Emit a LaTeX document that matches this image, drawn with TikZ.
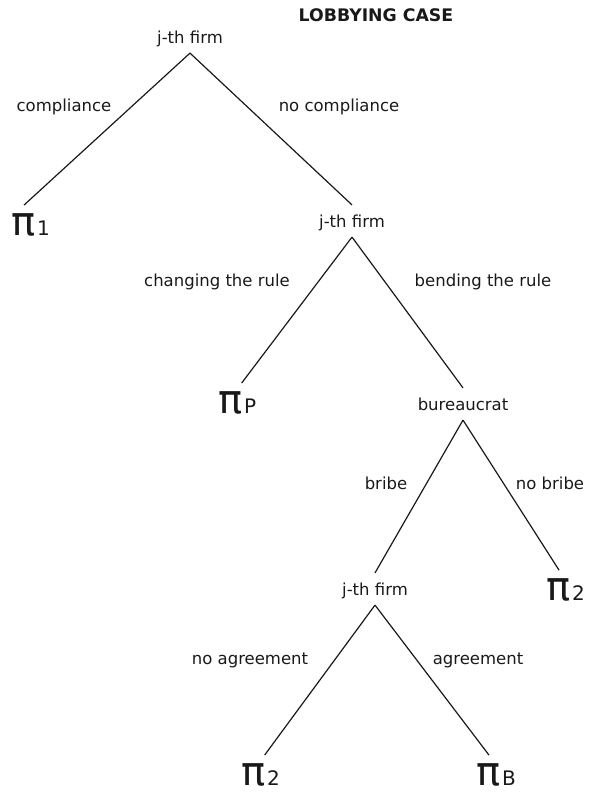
\documentclass[tikz,border=0pt]{standalone}
\usepackage{fontspec}
\setmainfont{DejaVu Sans}
\usetikzlibrary{positioning}

\begin{document}
\begin{tikzpicture}[x = 1pt, y = -1pt, line width = 1.2pt, color = black!90,
		choice/.style = {font = \fontsize{16.5}{16.5}\selectfont, text height = 14pt, text depth = 0.5pt, inner sep = 0.75pt},
		player/.style = {font = \fontsize{16.5}{16.5}\selectfont, text height = 14pt, text depth = 0.5pt, inner xsep = 1pt, inner ysep = 8.25pt},
		payoff/.style = {font = \fontsize{40}{40}\selectfont, inner sep = 0pt},
		idx/.style = {font = \fontsize{20}{20}\selectfont, inner sep = 0pt, anchor = base west}]
			\useasboundingbox (0,0) rectangle (589,792);
			
			\node[font = \fontsize{17.3}{17.3}\selectfont\bfseries] (title) at (376,15) {LOBBYING CASE};
			
			\node[player] (f1) at (190,37) {j-th firm};
			\node[player] (f2) at (352,221) {j-th firm};
			\node[player] (bur) at (463,404) {bureaucrat};
			\node[player] (f3) at (375,589) {j-th firm};
			
			\node[payoff] (p1) at (24,225) {π};
			\node[idx] (p1s) at (p1.base east) {1};
			\node[payoff] (pP) at (231,403) {π};
			\node[idx] (pPs) at (pP.base east) {P};
			\node[payoff] (p2a) at (559,590) {π};
			\node[idx] (p2as) at (p2a.base east) {2};
			\node[payoff] (p2b) at (254,775) {π};
			\node[idx] (p2bs) at (p2b.base east) {2};
			\node[payoff] (pB) at (489,775) {π};
			\node[idx] (pBs) at (pB.base east) {B};
			
			\draw (f1.south) -- ([yshift = 8pt]p1.north);
			\draw (f1.south) -- (f2.north);
			\draw (f2.south) -- ([xshift = -2pt, yshift = 8pt]pP.north east);
			\draw (f2.south) -- (bur.north);
			\draw (bur.south) -- (f3.north);
			\draw (bur.south) -- ([yshift = 8pt]p2a.north);
			\draw (f3.south) -- ([xshift = -2pt, yshift = 8pt]p2b.north east);
			\draw (f3.south) -- ([yshift = 8pt]pB.north);
			
			\node[choice] (c1) at (64,105) {compliance};
			\node[choice] (c2) at (339,105) {no compliance};
			\node[choice] (c3) at (217,280) {changing the rule};
			\node[choice] (c4) at (483,280) {bending the rule};
			\node[choice] (c5) at (386,483) {bribe};
			\node[choice] (c6) at (550,483) {no bribe};
			\node[choice] (c7) at (250,658) {no agreement};
			\node[choice] (c8) at (478,658) {agreement};
		\end{tikzpicture}
\end{document}
